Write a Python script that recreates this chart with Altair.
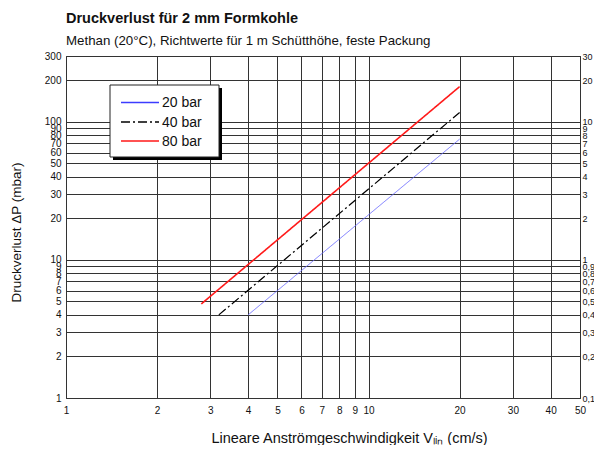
import altair as alt
import pandas as pd

# ---- data ----
series = ["20 bar", "40 bar", "80 bar"]
v_20 = [4.0, 20.0]
p_20 = [4.0, 75.0]
v_40 = [3.2, 20.0]
p_40 = [4.0, 117.0]
v_80 = [2.8, 20.0]
p_80 = [4.8, 180.0]

x_ticks = [1, 2, 3, 4, 5, 6, 7, 8, 9, 10, 20, 30, 40, 50]
y_ticks = [1, 2, 3, 4, 5, 6, 7, 8, 9, 10, 20, 30, 40, 50, 60, 70, 80, 90, 100, 200, 300]

colors = ["#6a6aff", "#000000", "#ff1a1a"]
legend_colors = ["#3c3cff", "#000000", "#ff1a1a"]
dashes = [[1, 0], [9, 3, 2, 3], [1, 0]]
widths = [0.9, 1.6, 2.0]

rows = []
for s, vs, ps in zip(series, [v_20, v_40, v_80], [p_20, p_40, p_80]):
    for v, p in zip(vs, ps):
        rows.append({"s": s, "v": v, "p": p})
df = pd.DataFrame(rows)

FONT = "Liberation Sans"
xs = alt.Scale(type="log", domain=[1, 50], nice=False)
ys = alt.Scale(type="log", domain=[1, 300], nice=False)

x_axis = alt.Axis(
    values=x_ticks, grid=True, gridColor="#333333", gridWidth=1,
    ticks=False, domain=False, labelFontSize=10, labelColor="#111111",
    labelPadding=7, labelOverlap=False, labelBound=False, labelFlush=False,
    format="~g",
    title="Lineare Anströmgeschwindigkeit  Vₗᵢₙ (cm/s)", titleFontSize=14.5,
    titleFontWeight="normal", titleColor="#111111", titlePadding=16,
    titleX=283)

lines = alt.Chart(df).mark_line(clip=True).encode(
    x=alt.X("v:Q", scale=xs, axis=x_axis),
    y=alt.Y("p:Q", scale=ys, axis=alt.Axis(
        orient="left", values=y_ticks, grid=True, gridColor="#333333", gridWidth=1,
        ticks=False, domain=False, labelFontSize=10, labelColor="#111111",
        labelPadding=5, labelOverlap=False, labelBound=False, labelFlush=False,
        format="~g",
        title="Druckverlust ΔP (mbar)", titleFontSize=13.5, titleFontWeight="normal",
        titleColor="#111111", titlePadding=21, titleY=176)),
    color=alt.Color("s:N", scale=alt.Scale(domain=series, range=colors), legend=None),
    strokeDash=alt.StrokeDash("s:N", scale=alt.Scale(domain=series, range=dashes), legend=None),
    strokeWidth=alt.StrokeWidth("s:N", scale=alt.Scale(domain=series, range=widths), legend=None),
)

right_axis = alt.Chart(df).mark_point(opacity=0).encode(
    x=alt.X("v:Q", scale=xs, axis=x_axis),
    y=alt.Y("p:Q", scale=ys, axis=alt.Axis(
        orient="right", values=y_ticks, grid=False, ticks=False, domain=False,
        labelFontSize=9, labelColor="#111111", labelPadding=2,
        labelOverlap=False, labelBound=False, labelFlush=False,
        labelExpr="replace(format(datum.value / 10, '~g'), '.', ',')",
        title=None)),
)

one = alt.Data(values=[{}])
shadow = alt.Chart(one).mark_rect(color="#000000").encode(
    x=alt.value(47), x2=alt.value(156), y=alt.value(32), y2=alt.value(104))
box = alt.Chart(one).mark_rect(fill="white", stroke="#222222", strokeWidth=1).encode(
    x=alt.value(44), x2=alt.value(153), y=alt.value(29), y2=alt.value(101))

legend_layers = []
row_y = [46.5, 66, 85]
for i, s in enumerate(series):
    legend_layers.append(
        alt.Chart(one).mark_rule(color=legend_colors[i], strokeDash=dashes[i],
                                 strokeWidth=1.5).encode(
            x=alt.value(55), x2=alt.value(93), y=alt.value(row_y[i])))
    legend_layers.append(
        alt.Chart(one).mark_text(text=s, font=FONT, fontSize=14, align="left",
                                 baseline="middle", color="#111111").encode(
            x=alt.value(96), y=alt.value(row_y[i] + 0.5)))

chart = alt.layer(lines, right_axis, shadow, box, *legend_layers).resolve_axis(
    y="independent"
).properties(
    width=514, height=342,
    autosize=alt.AutoSizeParams(type="none"),
    padding={"left": 58, "top": 48, "right": 14, "bottom": 47},
    title=alt.Title(
        "Druckverlust für 2 mm Formkohle",
        subtitle="Methan (20°C), Richtwerte für 1 m Schütthöhe, feste  Packung",
        anchor="start", frame="group", font=FONT, fontSize=14.5, fontWeight="bold",
        color="#111111", subtitleFont=FONT, subtitleFontSize=13.3,
        subtitleColor="#111111", subtitlePadding=7, offset=3),
).configure(font=FONT).configure_view(stroke="#222222", strokeWidth=1)

chart.save("out.html", embed_options={"renderer": "svg", "actions": False})
